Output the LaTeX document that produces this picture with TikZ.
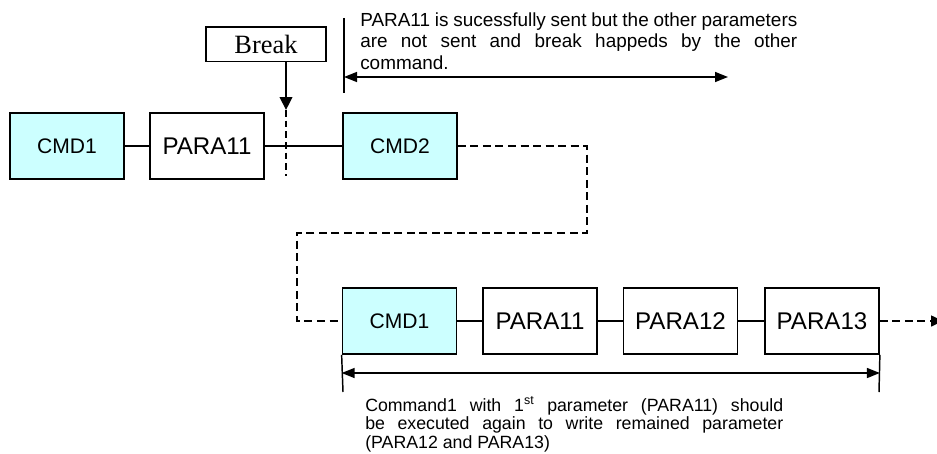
\documentclass[tikz,border=0pt]{standalone}
\usepackage{fontspec}
\setmainfont{Liberation Sans}
\newfontfamily\breakfont{Liberation Serif}
\usetikzlibrary{arrows.meta}
\definecolor{cmdfill}{HTML}{CCFFFF}
\definecolor{ink}{HTML}{000000}
\newcommand{\boxtxt}{\fontsize{18.1}{20}\selectfont}
\newcommand{\cmdtxt}{\fontsize{15.8}{18}\selectfont}
\newcommand{\brktxt}{\breakfont\fontsize{19.8}{22}\selectfont}
\newcommand{\note}{\fontsize{14.2}{16.1}\selectfont}
\newcommand{\notetight}{\fontsize{13.3}{13.9}\selectfont}
\tikzset{
  parabox/.style={draw=ink,line width=1.3pt,fill=white,minimum width=85.5pt,minimum height=49.5pt,inner sep=0,font=\boxtxt},
  cmdbox/.style={parabox,fill=cmdfill,font=\cmdtxt},
  link/.style={ink,line width=1.4pt},
  route/.style={ink,line width=1.9pt,dash pattern=on 6pt off 3.4pt},
  tick/.style={ink,line width=1.1pt},
  span/.style={ink,line width=1.1pt,{Triangle[length=9.75pt,width=7.5pt]}-{Triangle[length=9.75pt,width=7.5pt]}},
}

\begin{document}
\begin{tikzpicture}[x=0.75pt,y=-0.75pt]
\useasboundingbox (0,0) rectangle (937,453);
% first sequence
\node[cmdbox] (cmdA) at (67,146) {CMD1};
\node[parabox] (paraA) at (207,146) {PARA11};
\node[cmdbox] (cmdTwo) at (400,146) {CMD2};
\draw[link] (cmdA) -- (paraA);
\draw[link] (paraA) -- (cmdTwo);
% break marker
\node[draw=ink,line width=1pt,fill=white,minimum width=90pt,minimum height=26pt,inner sep=0,font=\brktxt] (brk) at (266,44.5) {Break};
\coordinate (cut) at (286,110);
\coordinate (cutEnd) at (286,176);
\draw[ink,line width=1.1pt,-{Triangle[length=9.75pt,width=9.5pt]}] (brk.south -| cut) -- (cut);
\draw[ink,line width=1pt,dash pattern=on 5pt off 3pt] (cut) -- (cutEnd);
% top span
\coordinate (tickTop) at (344,18);
\coordinate (tickBot) at (344,93);
\coordinate (spanL) at (344,77);
\coordinate (spanR) at (728,77);
\draw[tick] (tickTop) -- (tickBot);
\draw[span] (spanL) -- (spanR);
\node[anchor=north west,inner sep=0,text width=327.8pt,align=justify,font=\note] (noteTop) at (360,12.5)
  {PARA11 is sucessfully sent but the other parameters\linebreak are not sent and break happeds by the other\linebreak command.};
% retry route
\node[cmdbox] (cmdB) at (399.5,321) {CMD1};
\node[parabox] (paraB) at (540,321) {PARA11};
\node[parabox] (paraC) at (680.5,321) {PARA12};
\node[parabox] (paraD) at (822,321) {PARA13};
\coordinate (r1) at (587,146);
\coordinate (r2) at (587,233);
\coordinate (r3) at (297,233);
\coordinate (r4) at (297,321);
\draw[route] (cmdTwo.east) -- (r1) -- (r2) -- (r3) -- (r4) -- (cmdB.west);
\draw[link] (cmdB) -- (paraB);
\draw[link] (paraB) -- (paraC);
\draw[link] (paraC) -- (paraD);
\coordinate (outEnd) at (943,321);
\draw[route,-{Triangle[length=9pt,width=8pt]}] (paraD.east) -- (outEnd);
% bottom span
\coordinate (botL) at (343,392);
\coordinate (botR) at (879,392);
\draw[tick] (cmdB.south west) -- (botL);
\draw[tick] (paraD.south east) -- (botR);
\draw[span] (cmdB.south west |- 0,373) -- (paraD.south east |- 0,373);
\node[anchor=north west,inner sep=0,text width=313.5pt,align=justify,font=\notetight] (noteBot) at (365,396)
  {Command1 with 1\textsuperscript{st} parameter (PARA11) should\linebreak be executed again to write remained parameter\linebreak (PARA12 and PARA13)};
\end{tikzpicture}
\end{document}
